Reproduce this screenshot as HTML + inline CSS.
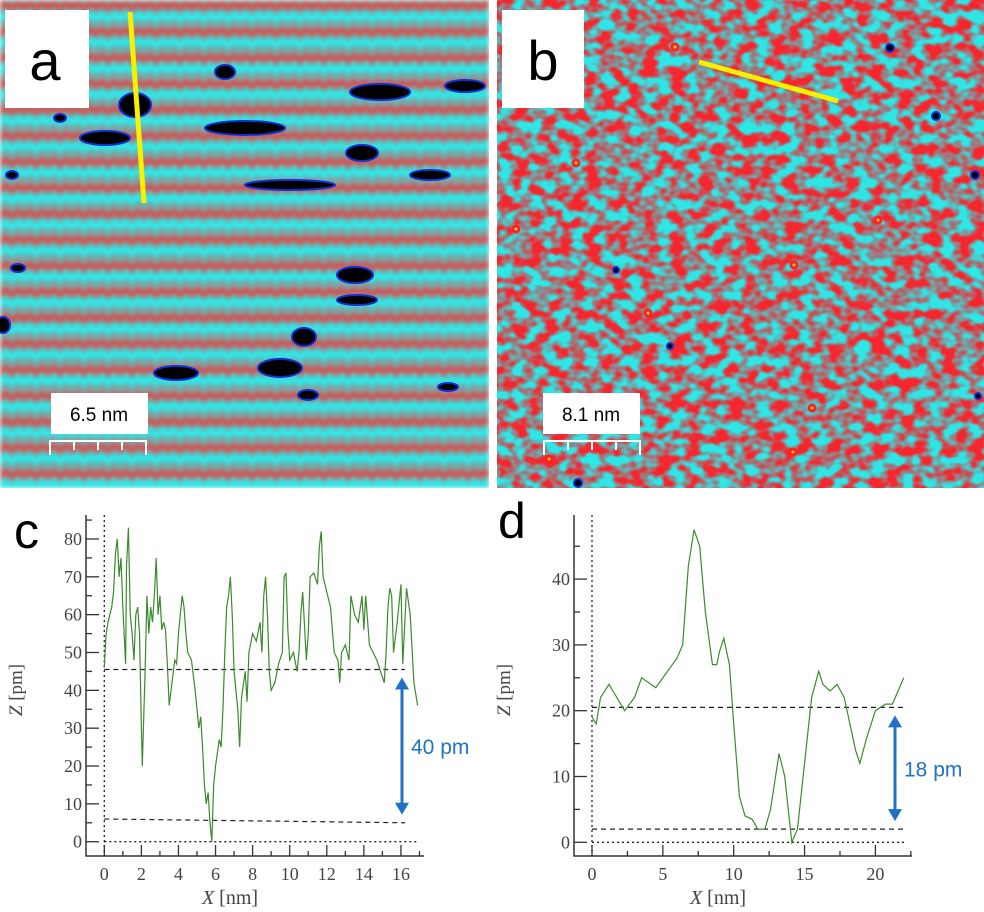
<!DOCTYPE html>
<html><head><meta charset="utf-8"><style>
html,body{margin:0;padding:0;background:#fff;width:984px;height:912px;overflow:hidden}
svg{display:block}
text{font-family:"Liberation Serif",serif}
.sans{font-family:"Liberation Sans",sans-serif}
</style></head><body>
<svg id="fig" width="984" height="912" viewBox="0 0 984 912">
<defs>
<filter id="blur2" color-interpolation-filters="sRGB"><feGaussianBlur stdDeviation="2"/></filter>
<filter id="speckle" x="0" y="0" width="100%" height="100%" color-interpolation-filters="sRGB">
<feTurbulence type="fractalNoise" baseFrequency="0.07 0.09" numOctaves="2" seed="7" result="n"/>
<feComponentTransfer in="n" result="c"><feFuncR type="linear" slope="3.5" intercept="-1.25"/></feComponentTransfer>
<feColorMatrix in="c" type="matrix" values="0.78 0 0 0 0.18  -0.75 0 0 0 0.9  -0.72 0 0 0 0.9  0 0 0 0 1"/>
</filter>
<pattern id="waves" width="24" height="26" patternUnits="userSpaceOnUse">
<rect width="24" height="26" fill="#7fa3a3"/>
<path d="M0 4 L6 1 L12 5 L18 1 L24 4 L24 10 L18 7 L12 11 L6 7 L0 10Z" fill="#e84040" opacity="0.85"/>
<path d="M0 14 L6 11 L12 15 L18 11 L24 14 L24 22 L18 19 L12 23 L6 19 L0 22Z" fill="#2ee8e8"/>
</pattern>
<clipPath id="clipA"><rect x="0" y="0" width="489" height="488"/></clipPath>
<clipPath id="clipB"><rect x="497" y="0" width="487" height="488"/></clipPath>
</defs>

<g clip-path="url(#clipA)">
<rect x="0" y="0" width="489" height="488" fill="url(#waves)" filter="url(#blur2)"/>
<g fill="#000" stroke="#1030d0" stroke-width="2">
<ellipse cx="135" cy="105" rx="16" ry="12"/><ellipse cx="105" cy="138" rx="25" ry="7"/>
<ellipse cx="245" cy="128" rx="40" ry="7"/><ellipse cx="225" cy="72" rx="10" ry="7"/>
<ellipse cx="380" cy="92" rx="30" ry="8"/><ellipse cx="465" cy="86" rx="20" ry="6"/>
<ellipse cx="362" cy="153" rx="16" ry="8"/><ellipse cx="290" cy="185" rx="45" ry="5"/>
<ellipse cx="430" cy="175" rx="20" ry="5"/><ellipse cx="355" cy="275" rx="18" ry="8"/>
<ellipse cx="357" cy="300" rx="20" ry="5"/><ellipse cx="304" cy="337" rx="12" ry="9"/>
<ellipse cx="176" cy="373" rx="22" ry="7"/><ellipse cx="280" cy="368" rx="22" ry="9"/>
<ellipse cx="12" cy="175" rx="6" ry="4"/><ellipse cx="18" cy="268" rx="7" ry="4"/>
<ellipse cx="448" cy="387" rx="10" ry="4"/><ellipse cx="3" cy="325" rx="7" ry="8"/>
<ellipse cx="60" cy="118" rx="6" ry="4"/><ellipse cx="308" cy="395" rx="10" ry="5"/>
</g>
</g>
<g clip-path="url(#clipB)">
<rect x="497" y="0" width="487" height="488" filter="url(#speckle)"/>
<g fill="#ffcc30" stroke="#ff2020" stroke-width="3">
<circle cx="675" cy="47" r="3"/><circle cx="576" cy="163" r="3"/><circle cx="794" cy="265" r="3"/>
<circle cx="648" cy="313" r="3"/><circle cx="516" cy="229" r="3"/><circle cx="878" cy="220" r="3"/>
<circle cx="793" cy="452" r="3"/><circle cx="549" cy="459" r="3"/><circle cx="812" cy="408" r="3"/>
</g>
<g fill="#000" stroke="#1030d0" stroke-width="2">
<circle cx="890" cy="48" r="4"/><circle cx="936" cy="116" r="4"/><circle cx="975" cy="175" r="4"/>
<circle cx="616" cy="270" r="3"/><circle cx="670" cy="346" r="3"/><circle cx="578" cy="483" r="4"/>
<circle cx="978" cy="396" r="3"/>
</g>
</g>

<g>
<rect x="5" y="10" width="84" height="98" fill="#fff"/>
<text x="45" y="80" class="sans" font-size="56" text-anchor="middle" fill="#000">a</text>
<line x1="130" y1="12" x2="144" y2="203" stroke="#f8f000" stroke-width="5"/>
<rect x="51" y="393" width="97" height="41" fill="#fff"/>
<text x="99" y="421" class="sans" font-size="19" text-anchor="middle" fill="#000">6.5 nm</text>
<path d="M50 455 V441 H146 V455 M74 441V450 M98 441V450 M122 441V450" stroke="#fff" stroke-width="2" fill="none"/>
</g>
<g>
<rect x="502" y="10" width="82" height="98" fill="#fff"/>
<text x="543" y="80" class="sans" font-size="56" text-anchor="middle" fill="#000">b</text>
<line x1="699" y1="62" x2="838" y2="101" stroke="#f8f000" stroke-width="5"/>
<rect x="543" y="393" width="97" height="41" fill="#fff"/>
<text x="591" y="421" class="sans" font-size="19" text-anchor="middle" fill="#000">8.1 nm</text>
<path d="M544 455 V441 H640 V455 M568 441V450 M592 441V450 M616 441V450" stroke="#fff" stroke-width="2" fill="none"/>
</g>

<text x="14" y="548" class="sans" font-size="50" fill="#000">c</text>
<text x="498" y="538" class="sans" font-size="50" fill="#000">d</text>
<g id="chartC"></g>
<g id="chartD"></g>
</svg>
<script>
const cX=[0,0.1,0.2,0.4,0.5,0.6,0.7,0.8,0.9,1.0,1.1,1.15,1.2,1.3,1.4,1.5,1.6,1.7,1.8,1.9,2.0,2.05,2.2,2.3,2.4,2.5,2.6,2.7,2.8,2.9,3.0,3.1,3.2,3.3,3.4,3.5,3.6,3.8,3.9,4.0,4.2,4.3,4.4,4.5,4.7,4.9,5.1,5.2,5.3,5.4,5.5,5.6,5.7,5.8,5.9,6.0,6.2,6.3,6.4,6.5,6.6,6.7,6.8,6.9,7.0,7.2,7.3,7.4,7.6,7.7,7.8,8.0,8.2,8.4,8.5,8.6,8.7,8.8,8.9,9.0,9.2,9.4,9.6,9.7,9.8,9.9,10.0,10.2,10.4,10.5,10.6,10.7,10.9,11.0,11.1,11.3,11.5,11.6,11.7,11.8,12.0,12.2,12.4,12.6,12.7,12.8,13.0,13.2,13.3,13.5,13.7,13.9,14.0,14.1,14.3,14.5,14.7,14.9,15.1,15.2,15.3,15.4,15.5,15.6,15.8,16.0,16.1,16.3,16.5,16.7,16.9];
const cZ=[46,55,58,62,66,76,80,70,75,62,52,47,73,83,60,55,48,60,62,55,30,20,45,65,55,62,58,65,75,60,65,56,58,56,47,36,40,48,47,55,65,62,55,50,48,40,30,33,25,15,10,13,5,0,15,20,27,25,35,50,62,65,70,60,45,35,25,38,45,37,50,55,53,58,50,65,70,60,45,40,42,47,50,70,71,56,48,50,45,50,60,66,48,55,70,71,68,78,82,70,66,62,50,48,42,50,52,48,65,60,58,65,56,65,52,50,48,45,42,50,62,67,65,50,58,68,47,67,60,42,36];
const cYTicks=[0,10,20,30,40,50,60,70,80];
const cXTicks=[0,2,4,6,8,10,12,14,16];
const cLevels=[45.5,6];
const cLow2=5;

const dX=[0,0.3,0.6,1.2,2.3,3,3.5,4.5,5,6,6.4,6.8,7.2,7.6,8,8.5,8.8,9.0,9.3,9.7,10.0,10.4,10.8,11.3,11.7,12.2,12.6,13.2,13.6,14.1,14.5,15.0,15.5,16.0,16.3,16.8,17.3,17.8,18.2,18.6,18.9,19.4,20,20.7,21.2,21.6,22];
const dZ=[19,18,22,24,20,22,25,23.5,25,28,30,42,47.5,45,35,27,27,29,31,27,18,7,4,3.5,2,2,5,13.5,10,0,2,12,22,26,24,23,24,22,18,14,12,16,20,21,21,23,25];
const dYTicks=[0,10,20,30,40];
const dXTicks=[0,5,10,15,20];
const dLevels=[20.5,2];

const NS='http://www.w3.org/2000/svg';
function mk(parent,tag,attrs){const e=document.createElementNS(NS,tag);for(const k in attrs)e.setAttribute(k,attrs[k]);parent.appendChild(e);return e;}

function drawChart(g,cfg){
  const sx=v=>cfg.x0+v*cfg.kx, sy=v=>cfg.y0-v*cfg.ky;
  const ax=mk(g,'path',{d:`M${cfg.axL} ${cfg.axT} V${cfg.axB} H${cfg.axR}`,stroke:'#333','stroke-width':1.5,fill:'none'});
  
  
  cfg.yt.forEach((t,i)=>{
    const l=mk(g,'line',{x1:cfg.axL,x2:cfg.axL+13,y1:sy(t),y2:sy(t),stroke:'#333','stroke-width':1.3});
    
    
    const m=mk(g,'line',{x1:cfg.axL,x2:cfg.axL+6,y1:sy(t+cfg.yMinor),y2:sy(t+cfg.yMinor),stroke:'#333','stroke-width':1.3});
    
    
    const tx=mk(g,'text',{x:cfg.axL-4,y:sy(t)+6,'font-size':18,'text-anchor':'end',fill:'#444'});
    tx.textContent=t;
    
    
  });
  cfg.xt.forEach((t,i)=>{
    const l=mk(g,'line',{x1:sx(t),x2:sx(t),y1:cfg.axB,y2:cfg.axB-11,stroke:'#333','stroke-width':1.3});
    
    
    const m=mk(g,'line',{x1:sx(t+cfg.xMinor),x2:sx(t+cfg.xMinor),y1:cfg.axB,y2:cfg.axB-5,stroke:'#333','stroke-width':1.3});
    
    
    const tx=mk(g,'text',{x:sx(t),y:cfg.axB+24,'font-size':18,'text-anchor':'middle',fill:'#444'});
    tx.textContent=t;
    
    
  });
  const vz=mk(g,'line',{x1:sx(0),x2:sx(0),y1:cfg.axT,y2:cfg.axB,stroke:'#222','stroke-width':1.3,'stroke-dasharray':'2 3'});
  
  
  const hz=mk(g,'line',{x1:sx(0),x2:cfg.zeroEnd,y1:sy(0),y2:sy(0),stroke:'#222','stroke-width':1.3,'stroke-dasharray':'2 3'});
  
  
  const l1=mk(g,'line',{x1:sx(0),x2:cfg.lvlEnd,y1:sy(cfg.lv[0]),y2:sy(cfg.lv[0]),stroke:'#222','stroke-width':1.2,'stroke-dasharray':'5 4'});
  
  
  const l2=mk(g,'line',{x1:sx(0),x2:cfg.lvlEnd,y1:sy(cfg.lv[1]),y2:sy(cfg.lv2end),stroke:'#222','stroke-width':1.2,'stroke-dasharray':'5 4'});
  
  
  const p=mk(g,'polyline',{points:cfg.xs.map((x,i)=>sx(x)+','+sy(cfg.zs[i])).join(' '),fill:'none',stroke:'#3c8a2e','stroke-width':1.2});
  
  
  const ay1=sy(cfg.lv[0])+8, ay2=sy(cfg.lv2end)-8, axx=cfg.arrowX;
  const ar=mk(g,'path',{d:`M${axx} ${ay1+10} V${ay2-10}`,stroke:'#1f72c4','stroke-width':3});
  
  
  const h1=mk(g,'path',{d:`M${axx-7} ${ay1+12} L${axx} ${ay1} L${axx+7} ${ay1+12}Z M${axx-7} ${ay2-12} L${axx} ${ay2} L${axx+7} ${ay2-12}Z`,fill:'#1f72c4'});
  
  
  const at=mk(g,'text',{x:axx+9,y:(ay1+ay2)/2+8,'font-size':21,fill:'#1f72c4',class:'sans'});
  at.textContent=cfg.label;
  
  
  const yt=mk(g,'text',{x:0,y:0,'font-size':19,fill:'#444','text-anchor':'middle',transform:`translate(${cfg.yTitleX},${cfg.yTitleY}) rotate(-90)`});
  yt.innerHTML='<tspan font-style="italic">Z</tspan> [pm]';
  
  
  const xt=mk(g,'text',{x:cfg.xTitleX,y:904,'font-size':20,fill:'#444','text-anchor':'middle'});
  xt.innerHTML='<tspan font-style="italic">X</tspan> [nm]';
  
  
}
drawChart(document.getElementById('chartC'),{x0:104.3,kx:18.54,y0:841.7,ky:3.784,axL:86,axT:515,axB:856,axR:424,
  yt:cYTicks,xt:cXTicks,yMinor:5,xMinor:1,lv:cLevels,lv2end:cLow2,zeroEnd:418,lvlEnd:405,xs:cX,zs:cZ,arrowX:402,label:'40 pm',
  yTitleX:22,yTitleY:690,xTitleX:230});
drawChart(document.getElementById('chartD'),{x0:592,kx:14.17,y0:842.3,ky:6.58,axL:574,axT:515,axB:856,axR:912,
  yt:dYTicks,xt:dXTicks,yMinor:5,xMinor:2.5,lv:dLevels,lv2end:dLevels[1],zeroEnd:907,lvlEnd:907,xs:dX,zs:dZ,arrowX:895,label:'18 pm',
  yTitleX:510,yTitleY:690,xTitleX:718});
</script>
</body></html>
